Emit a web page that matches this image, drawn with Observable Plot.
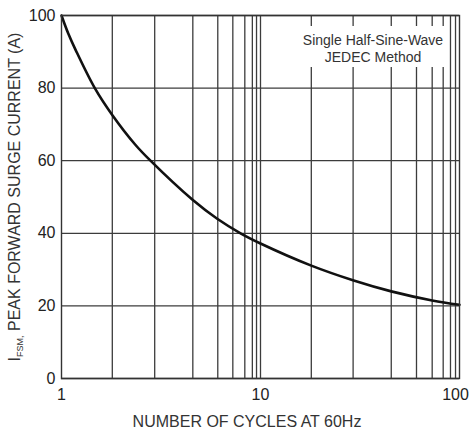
<!DOCTYPE html>
<html>
<head>
<meta charset="utf-8">
<script src="https://cdn.jsdelivr.net/npm/d3@7"></script>
<script src="https://cdn.jsdelivr.net/npm/@observablehq/plot@0.6"></script>
<style>
  html, body { margin: 0; padding: 0; background: white; }
  #chart { width: 470px; height: 432px; }
</style>
</head>
<body>
<div id="chart"></div>
<script>
// Curve
const cycles  = [1, 1.08, 1.18, 1.47, 1.81, 2.35, 2.8, 4.54, 6.06, 7.94, 10, 18, 29.4, 45.4, 72.9, 100];
const current = [100, 95.1, 90.4, 80, 72.4, 64.4, 60, 49.3, 44, 40, 37.2, 31.1, 27, 24, 21.5, 20.3];

// Vertical grid lines as drawn on the reference's log paper
const xGrid = [1.8, 2.94, 4.57, 6.1, 7.26, 8.34, 9.1, 9.55, 10,
               18, 29.2, 45.4, 60.8, 72.9, 82.8, 90.1, 95.5];
const yTicks = [0, 20, 40, 60, 80, 100];
const xTicksInner = [1, 10];
const xTickLast = [100];

const noteLines = ["Single Half-Sine-Wave", "JEDEC Method"];
const xTitle = "NUMBER OF CYCLES AT 60Hz";
const yTitleMain = "I";
const yTitleSub = "FSM,";
const yTitleRest = " PEAK FORWARD SURGE CURRENT (A)";

const data = cycles.map((c, i) => ({cycles: c, current: current[i]}));

const noteBox = (index, scales, values, dimensions) =>
  d3.create("svg:rect")
    .attr("x", 298).attr("y", 26)
    .attr("width", 150).attr("height", 41)
    .attr("fill", "white")
    .node();

const axisOpts = {tickSize: 0, tickPadding: 10, tickFormat: d => String(d), label: null};

const chart = Plot.plot({
  width: 470,
  height: 432,
  marginLeft: 61,
  marginRight: 11,
  marginTop: 15,
  marginBottom: 54,
  style: {
    fontFamily: "'Liberation Sans', Arial, sans-serif",
    fontSize: "16px",
    color: "#222",
    background: "white",
    overflow: "visible"
  },
  x: {type: "log", domain: [1, 100]},
  y: {domain: [0, 100], ticks: yTicks, tickSize: 0, tickPadding: 6, label: null},
  marks: [
    Plot.ruleX(xGrid, {stroke: "#3c3c3c", strokeWidth: 1.3}),
    Plot.ruleY(yTicks, {stroke: "#3c3c3c", strokeWidth: 1.3}),
    Plot.axisX(xTicksInner, axisOpts),
    Plot.axisX(xTickLast, {...axisOpts, dx: -4}),
    noteBox,
    Plot.text([noteLines.join("\n")], {
      frameAnchor: "top", dx: 112.5, dy: 18, lineHeight: 1.2,
      fontSize: 14, fill: "#333", textAnchor: "middle"
    }),
    Plot.line(data, {x: "cycles", y: "current", curve: "catmull-rom",
                     stroke: "#111", strokeWidth: 2.6}),
    Plot.frame({stroke: "#333", strokeWidth: 1.4})
  ]
});

const svg = d3.select(chart);
svg.append("text")
  .attr("x", 247).attr("y", 427)
  .attr("text-anchor", "middle")
  .attr("fill", "#333")
  .attr("font-size", 16)
  .text(xTitle);

const yt = svg.append("text")
  .attr("transform", "translate(20,197) rotate(-90)")
  .attr("text-anchor", "middle")
  .attr("fill", "#333")
  .attr("font-size", 16);
yt.append("tspan").text(yTitleMain);
yt.append("tspan").attr("font-size", 9).attr("dy", 3).text(yTitleSub);
yt.append("tspan").attr("dy", -3).text(yTitleRest);

document.getElementById("chart").appendChild(chart);
</script>
</body>
</html>
